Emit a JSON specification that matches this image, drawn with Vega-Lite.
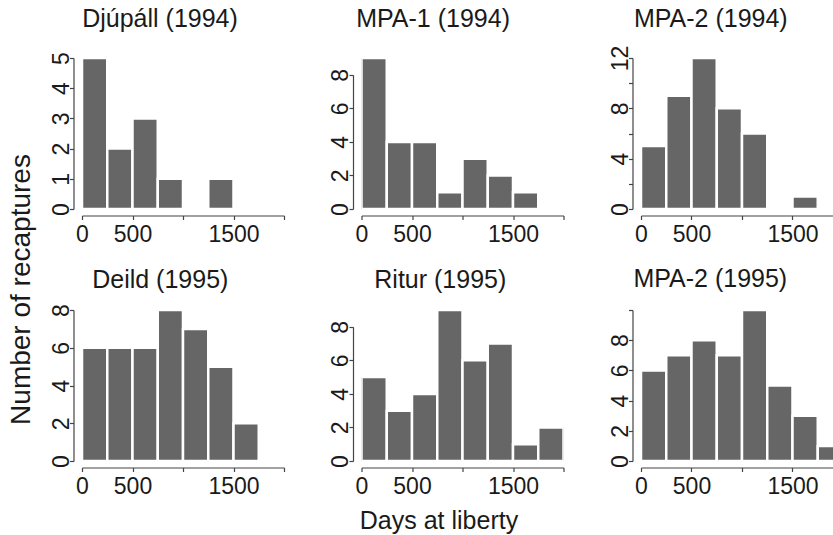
{
  "$schema": "https://vega.github.io/schema/vega-lite/v6.json",
  "background": "white",
  "padding": {"left": 7, "top": 7, "right": 0, "bottom": 0},
  "data": {
    "values": [
      {"panel": "P1", "start": 0, "end": 250, "count": 5},
      {"panel": "P1", "start": 250, "end": 500, "count": 2},
      {"panel": "P1", "start": 500, "end": 750, "count": 3},
      {"panel": "P1", "start": 750, "end": 1000, "count": 1},
      {"panel": "P1", "start": 1250, "end": 1500, "count": 1},
      {"panel": "P2", "start": 0, "end": 250, "count": 9},
      {"panel": "P2", "start": 250, "end": 500, "count": 4},
      {"panel": "P2", "start": 500, "end": 750, "count": 4},
      {"panel": "P2", "start": 750, "end": 1000, "count": 1},
      {"panel": "P2", "start": 1000, "end": 1250, "count": 3},
      {"panel": "P2", "start": 1250, "end": 1500, "count": 2},
      {"panel": "P2", "start": 1500, "end": 1750, "count": 1},
      {"panel": "P3", "start": 0, "end": 250, "count": 5},
      {"panel": "P3", "start": 250, "end": 500, "count": 9},
      {"panel": "P3", "start": 500, "end": 750, "count": 12},
      {"panel": "P3", "start": 750, "end": 1000, "count": 8},
      {"panel": "P3", "start": 1000, "end": 1250, "count": 6},
      {"panel": "P3", "start": 1500, "end": 1750, "count": 1},
      {"panel": "P4", "start": 0, "end": 250, "count": 6},
      {"panel": "P4", "start": 250, "end": 500, "count": 6},
      {"panel": "P4", "start": 500, "end": 750, "count": 6},
      {"panel": "P4", "start": 750, "end": 1000, "count": 8},
      {"panel": "P4", "start": 1000, "end": 1250, "count": 7},
      {"panel": "P4", "start": 1250, "end": 1500, "count": 5},
      {"panel": "P4", "start": 1500, "end": 1750, "count": 2},
      {"panel": "P5", "start": 0, "end": 250, "count": 5},
      {"panel": "P5", "start": 250, "end": 500, "count": 3},
      {"panel": "P5", "start": 500, "end": 750, "count": 4},
      {"panel": "P5", "start": 750, "end": 1000, "count": 9},
      {"panel": "P5", "start": 1000, "end": 1250, "count": 6},
      {"panel": "P5", "start": 1250, "end": 1500, "count": 7},
      {"panel": "P5", "start": 1500, "end": 1750, "count": 1},
      {"panel": "P5", "start": 1750, "end": 2000, "count": 2},
      {"panel": "P6", "start": 0, "end": 250, "count": 6},
      {"panel": "P6", "start": 250, "end": 500, "count": 7},
      {"panel": "P6", "start": 500, "end": 750, "count": 8},
      {"panel": "P6", "start": 750, "end": 1000, "count": 7},
      {"panel": "P6", "start": 1000, "end": 1250, "count": 10},
      {"panel": "P6", "start": 1250, "end": 1500, "count": 5},
      {"panel": "P6", "start": 1500, "end": 1750, "count": 3},
      {"panel": "P6", "start": 1750, "end": 2000, "count": 1}
    ]
  },
  "columns": 3,
  "bounds": "flush",
  "spacing": {"row": 101, "column": 77.5},
  "concat": [
    {
      "width": 202, "height": 151,
      "title": {"text": "Djúpáll (1994)", "dx": -23, "offset": 19.4},
      "transform": [{"filter": "datum.panel === 'P1'"}],
      "mark": {"type": "bar", "fill": "#666666", "stroke": "white", "strokeWidth": 2.5, "clip": true},
      "encoding": {
        "x": {"field": "start", "type": "quantitative", "scale": {"domain": [0, 2000], "nice": false, "zero": false, "padding": 0},
              "axis": {"values": [0, 500, 1000, 1500, 2000], "format": "d", "labelExpr": "datum.value == 1000 || datum.value == 2000 ? '' : datum.label", "title": null}},
        "x2": {"field": "end"},
        "y": {"field": "count", "type": "quantitative", "scale": {"domain": [0, 5], "nice": false, "padding": 0},
              "axis": {"values": [0, 1, 2, 3, 4, 5], "format": "d", "title": "Number of recaptures", "titleX": -44, "titleY": 231}},
        "y2": {"datum": 0}
      }
    },
    {
      "width": 202, "height": 151,
      "title": {"text": "MPA-1 (1994)", "dx": -29.4, "offset": 25.8},
      "transform": [{"filter": "datum.panel === 'P2'"}],
      "mark": {"type": "bar", "fill": "#666666", "stroke": "white", "strokeWidth": 2.5, "clip": true},
      "encoding": {
        "x": {"field": "start", "type": "quantitative", "scale": {"domain": [0, 2000], "nice": false, "zero": false, "padding": 0},
              "axis": {"values": [0, 500, 1000, 1500, 2000], "format": "d", "labelExpr": "datum.value == 1000 || datum.value == 2000 ? '' : datum.label", "title": null}},
        "x2": {"field": "end"},
        "y": {"field": "count", "type": "quantitative", "scale": {"domain": [0, 9], "nice": false, "padding": 0},
              "axis": {"values": [0, 2, 4, 6, 8], "format": "d", "title": null, "domainDash": [134.2, 600]}},
        "y2": {"datum": 0}
      }
    },
    {
      "width": 192, "height": 151,
      "title": {"text": "MPA-2 (1994)", "dx": -26.2, "offset": 13},
      "transform": [{"filter": "datum.panel === 'P3'"}],
      "mark": {"type": "bar", "fill": "#666666", "stroke": "white", "strokeWidth": 2.5, "clip": true},
      "encoding": {
        "x": {"field": "start", "type": "quantitative", "scale": {"domain": [0, 1901], "nice": false, "zero": false, "padding": 0},
              "axis": {"values": [0, 500, 1000, 1500], "format": "d", "labelExpr": "datum.value == 1000 ? '' : datum.label", "title": null}},
        "x2": {"field": "end"},
        "y": {"field": "count", "type": "quantitative", "scale": {"domain": [0, 12], "nice": false, "padding": 0},
              "axis": {"values": [0, 2, 4, 6, 8, 10, 12], "format": "d", "labelExpr": "datum.value % 4 == 0 ? datum.label : ''", "title": null}},
        "y2": {"datum": 0}
      }
    },
    {
      "width": 202, "height": 151,
      "title": {"text": "Deild (1995)", "dx": -22.7, "offset": 10.6},
      "transform": [{"filter": "datum.panel === 'P4'"}],
      "mark": {"type": "bar", "fill": "#666666", "stroke": "white", "strokeWidth": 2.5, "clip": true},
      "encoding": {
        "x": {"field": "start", "type": "quantitative", "scale": {"domain": [0, 2000], "nice": false, "zero": false, "padding": 0},
              "axis": {"values": [0, 500, 1000, 1500, 2000], "format": "d", "labelExpr": "datum.value == 1000 || datum.value == 2000 ? '' : datum.label", "title": null}},
        "x2": {"field": "end"},
        "y": {"field": "count", "type": "quantitative", "scale": {"domain": [0, 8], "nice": false, "padding": 0},
              "axis": {"values": [0, 2, 4, 6, 8], "format": "d", "title": null}},
        "y2": {"datum": 0}
      }
    },
    {
      "width": 202, "height": 151,
      "title": {"text": "Ritur (1995)", "dx": -22.2, "offset": 17},
      "transform": [{"filter": "datum.panel === 'P5'"}],
      "mark": {"type": "bar", "fill": "#666666", "stroke": "white", "strokeWidth": 2.5, "clip": true},
      "encoding": {
        "x": {"field": "start", "type": "quantitative", "scale": {"domain": [0, 2000], "nice": false, "zero": false, "padding": 0},
              "axis": {"values": [0, 500, 1000, 1500, 2000], "format": "d", "labelExpr": "datum.value == 1000 || datum.value == 2000 ? '' : datum.label", "title": "Days at liberty", "titleX": 77, "titleY": 61}},
        "x2": {"field": "end"},
        "y": {"field": "count", "type": "quantitative", "scale": {"domain": [0, 9], "nice": false, "padding": 0},
              "axis": {"values": [0, 2, 4, 6, 8], "format": "d", "title": null, "domainDash": [134.2, 600]}},
        "y2": {"datum": 0}
      }
    },
    {
      "width": 192, "height": 151,
      "title": {"text": "MPA-2 (1995)", "dx": -26.7, "offset": 17},
      "transform": [{"filter": "datum.panel === 'P6'"}],
      "mark": {"type": "bar", "fill": "#666666", "stroke": "white", "strokeWidth": 2.5, "clip": true},
      "encoding": {
        "x": {"field": "start", "type": "quantitative", "scale": {"domain": [0, 1901], "nice": false, "zero": false, "padding": 0},
              "axis": {"values": [0, 500, 1000, 1500], "format": "d", "labelExpr": "datum.value == 1000 ? '' : datum.label", "title": null}},
        "x2": {"field": "end"},
        "y": {"field": "count", "type": "quantitative", "scale": {"domain": [0, 10], "nice": false, "padding": 0},
              "axis": {"values": [0, 2, 4, 6, 8, 10], "format": "d", "labelExpr": "datum.value == 10 ? '' : datum.label", "title": null}},
        "y2": {"datum": 0}
      }
    }
  ],
  "config": {
    "view": {"stroke": null},
    "font": "Liberation Sans",
    "title": {"font": "Liberation Sans", "fontSize": 25, "fontWeight": "normal", "color": "#1a1a1a", "anchor": "middle", "frame": "group", "baseline": "alphabetic"},
    "axis": {
      "grid": false,
      "domainColor": "#444444", "domainWidth": 1.2,
      "tickColor": "#444444", "tickWidth": 1.2, "tickSize": 4,
      "labelFont": "Liberation Sans", "labelFontSize": 23, "labelColor": "#1a1a1a",
      "labelFlush": false, "labelOverlap": false,
      "titleFont": "Liberation Sans", "titleFontWeight": "normal", "titleColor": "#1a1a1a"
    },
    "axisX": {"offset": 6.5, "labelAngle": 0, "labelAlign": "center", "labelBaseline": "top", "labelPadding": 4, "titleFontSize": 25, "titleAlign": "center", "titleBaseline": "alphabetic", "titleAngle": 0},
    "axisY": {"offset": 8.5, "labelAngle": -90, "labelAlign": "center", "labelBaseline": "alphabetic", "labelPadding": 1.5, "titleFontSize": 28, "titleAngle": -90, "titleAlign": "center", "titleBaseline": "alphabetic"}
  }
}
